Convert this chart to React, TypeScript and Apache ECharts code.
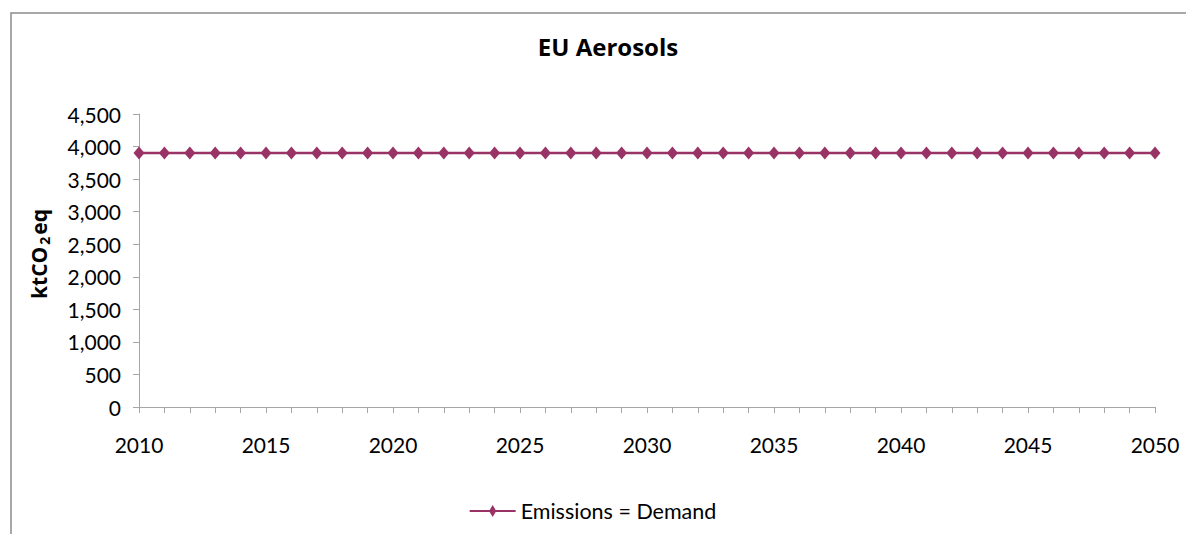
import React, { useEffect, useRef } from "react";
import * as echarts from "echarts";

const years: string[] = [];
for (let y = 2010; y <= 2050; y++) years.push(String(y));

const emissions: number[] = [
  3900, 3900, 3900, 3900, 3900, 3900, 3900, 3900, 3900, 3900,
  3900, 3900, 3900, 3900, 3900, 3900, 3900, 3900, 3900, 3900,
  3900, 3900, 3900, 3900, 3900, 3900, 3900, 3900, 3900, 3900,
  3900, 3900, 3900, 3900, 3900, 3900, 3900, 3900, 3900, 3900,
  3900,
];

const seriesName = "Emissions = Demand";
const titleText = "EU Aerosols";

const FONT = "Lato";
const BOLD_FONT = "Open Sans";
const COLOR = "#993366";

export default function App() {
  const ref = useRef<HTMLDivElement>(null);
  useEffect(() => {
    if (!ref.current) return;
    const chart = echarts.init(ref.current, null, { renderer: "svg" });
    chart.setOption({
      animation: false,
      backgroundColor: "#ffffff",
      textStyle: { fontFamily: FONT },
      title: {
        text: titleText,
        left: 603,
        top: 29,
        textAlign: "center",
        textStyle: { fontFamily: BOLD_FONT, fontWeight: "bold", fontSize: 24, color: "#000" },
      },
      graphic: [
        {
          type: "rect",
          shape: { x: 11, y: 13, width: 1200, height: 560 },
          style: { fill: "none", stroke: "#8c8c8c", lineWidth: 1.5 },
          silent: true,
          z: -1,
        },
        {
          type: "text",
          x: 39,
          y: 254,
          rotation: Math.PI / 2,
          style: {
            text: "{a|ktCO}{b|2}{a|eq}",
            align: "center",
            verticalAlign: "middle",
            rich: {
              a: { fontFamily: BOLD_FONT, fontWeight: "bold", fontSize: 21, fill: "#000" },
              b: { fontFamily: BOLD_FONT, fontWeight: "bold", fontSize: 14, fill: "#000", padding: [11, 2, 0, 2] },
            },
          },
          silent: true,
        },
      ],
      legend: {
        bottom: 7,
        left: "center",
        data: [{ name: seriesName, icon: "path://M0,5 L20,5 L23,0 L26,5 L46,5 L46,7 L26,7 L23,12 L20,7 L0,7 Z" }],
        itemWidth: 46,
        itemHeight: 12,
        itemGap: 6,
        textStyle: { fontFamily: FONT, fontSize: 21.5, color: "#000" },
      },
      grid: { left: 139, right: 31, top: 114, bottom: 127 },
      xAxis: {
        type: "category",
        data: years,
        boundaryGap: false,
        axisLine: { lineStyle: { color: "#a6a6a6", width: 1 } },
        axisTick: { show: true, interval: 0, length: 6, lineStyle: { color: "#a6a6a6" } },
        axisLabel: {
          interval: 4,
          margin: 27,
          fontFamily: FONT,
          fontSize: 21,
          color: "#000",
        },
        splitLine: { show: false },
      },
      yAxis: {
        type: "value",
        min: 0,
        max: 4500,
        interval: 500,
        axisLine: { show: true, lineStyle: { color: "#a6a6a6", width: 1 } },
        axisTick: { show: true, length: 6, lineStyle: { color: "#a6a6a6" } },
        axisLabel: {
          margin: 18,
          fontFamily: FONT,
          fontSize: 21,
          color: "#000",
          formatter: (v: number) => v.toLocaleString("en-US"),
        },
        splitLine: { show: false },
      },
      series: [
        {
          name: seriesName,
          type: "line",
          data: emissions,
          symbol: "diamond",
          symbolSize: [11, 13],
          lineStyle: { color: COLOR, width: 2.5 },
          itemStyle: { color: COLOR },
        },
      ],
    });
    return () => chart.dispose();
  }, []);
  return (
    <div
      ref={ref}
      style={{ position: "fixed", left: 0, top: 0, width: 1186, height: 534 }}
    />
  );
}
